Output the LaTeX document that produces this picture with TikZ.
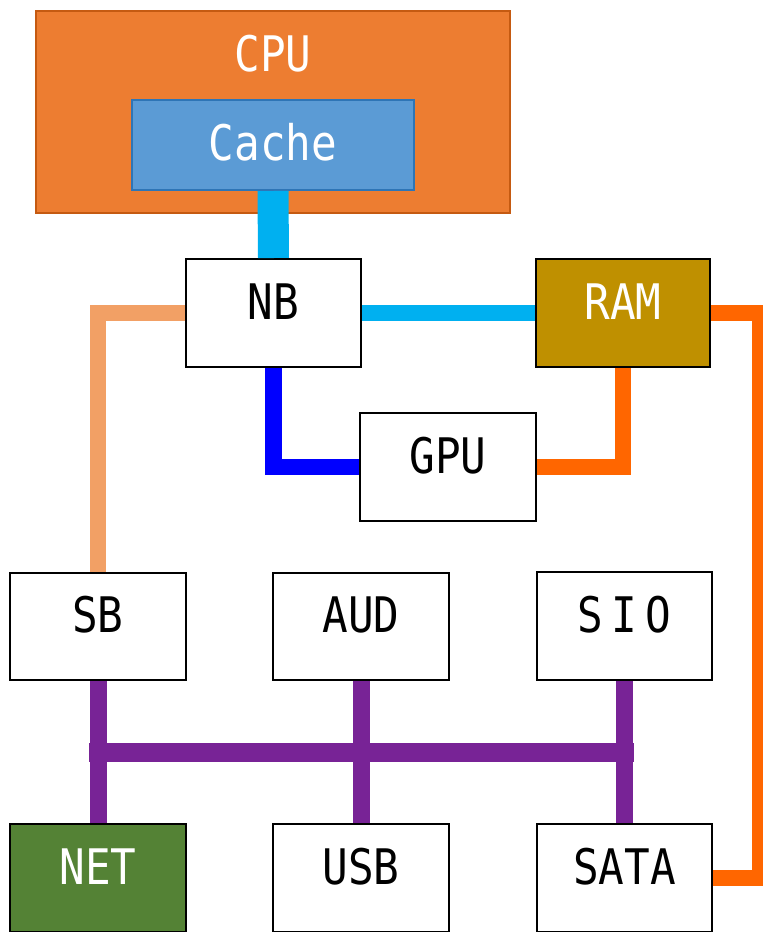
\documentclass[tikz,border=0pt]{standalone}
\usepackage{fontspec}
\usepackage{tikz}
\newfontfamily\labelfont[FakeStretch=0.87]{DejaVu Sans Mono}

\definecolor{cpuorange}{HTML}{ED7D31}
\definecolor{cpuedge}{HTML}{C55A11}
\definecolor{cacheblue}{HTML}{5B9BD5}
\definecolor{cacheedge}{HTML}{2E75B6}
\definecolor{ramgold}{HTML}{BF9000}
\definecolor{netgreen}{HTML}{548235}
\definecolor{linkcyan}{HTML}{00B0F0}
\definecolor{linkorange}{HTML}{FF6600}
\definecolor{linkpeach}{HTML}{F2A065}
\definecolor{buspurple}{HTML}{782396}

\tikzset{
  unit/.style={draw=black, line width=2pt, fill=white, minimum width=176pt,
    minimum height=108pt, inner sep=0pt, text height=36pt, text depth=24pt,
    font=\labelfont\fontsize{49}{59}\selectfont},
  link/.style={line width=16.5pt, line join=miter},
  bus/.style={line width=17pt, color=buspurple}
}

\begin{document}
\begin{tikzpicture}[x=1pt, y=-1pt]
\useasboundingbox (0,0) rectangle (763,932);
% processor
\node[unit, draw=cpuedge, fill=cpuorange, text=white, minimum width=474pt,
  minimum height=202pt, text depth=118pt] (CPU) at (273,112) {CPU};
\node[unit, draw=cacheedge, fill=cacheblue, text=white, minimum width=282pt,
  minimum height=90pt, text depth=6pt] (Cache) at (273,145) {Cache};
% bridges
\node[unit, minimum width=175pt] (NB) at (273.5,313) {NB};
\node[unit, fill=ramgold, text=white, minimum width=174pt] (RAM) at (623,313) {RAM};
\node[unit] (GPU) at (448,467) {GPU};
\node[unit, minimum height=107pt] (SB) at (98,626.5) {SB};
\node[unit, minimum height=107pt] (AUD) at (361,626.5) {AUD};
\node[unit, minimum width=175pt] (SIO) at (624.5,626) {S\,I\,O};
% devices
\node[unit, fill=netgreen, text=white] (NET) at (98,878) {NET};
\node[unit] (USB) at (361,878) {USB};
\node[unit, minimum width=175pt] (SATA) at (624.5,878) {SATA};

\draw[link, line width=31pt, linkcyan] (Cache.south) -- (NB.north);
\draw[link, linkcyan] (NB.east) -- (RAM.west);
\draw[link, linkpeach] (NB.west) -| (SB.north);
\draw[link, blue] (NB.south) |- (GPU.west);
\draw[link, linkorange] (RAM.south) |- (GPU.east);
\draw[link, linkorange] (RAM.east) -- ++(49,0) |- (SATA.east);

% purple bus
\coordinate (busline) at (0,752.5);
\foreach \up/\down in {SB/NET, AUD/USB, SIO/SATA}
  \draw[bus] (\up.south) -- (\down.north);
\draw[bus, line width=19pt, line cap=rect] (SB.south |- busline) -- (SIO.south |- busline);
\end{tikzpicture}
\end{document}
